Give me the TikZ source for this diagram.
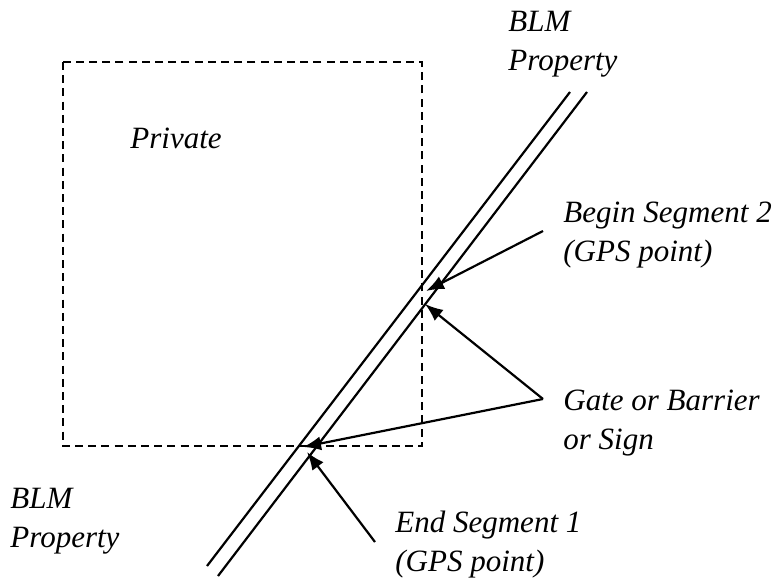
\documentclass[tikz,border=0pt]{standalone}
\usepackage{fontspec}
\setmainfont{Liberation Serif}
\usetikzlibrary{arrows.meta}
\tikzset{note/.style={anchor=base west, inner sep=0pt, align=left,
    font=\fontsize{15.5}{19.5}\selectfont\itshape}}
\tikzset{pointer/.style={line width=1.1pt, -{Latex[length=9pt,width=7pt]}}}

\begin{document}
\begin{tikzpicture}[x=0.5pt,y=-0.5pt]
  \useasboundingbox (0,0) rectangle (776,578);
  % private parcel
  \draw[line width=1.1pt, dash pattern=on 4pt off 2.6pt] (63,62) rectangle (422,446);
  % road
  \draw[line width=1.1pt] (207,566) -- (570,92);
  \draw[line width=1.1pt] (218,576) -- (587,92);
  % labels (anchored at the baseline of the last line)
  \node[note] (blmtop) at (508,70) {BLM\\Property};
  \node[note] (private) at (130,148) {Private};
  \node[note] (beginseg) at (563,261) {Begin Segment 2\\(GPS point)};
  \node[note] (gate) at (563,449) {Gate or Barrier\\or Sign};
  \node[note] (blmbot) at (10,547) {BLM\\Property};
  \node[note] (endseg) at (395,571) {End Segment 1\\(GPS point)};
  % arrow ends
  \coordinate (begintail) at (543,231);
  \coordinate (gatetail) at (543,399);
  \coordinate (endtail) at (375,542);
  \coordinate (begintip) at (426,291);
  \coordinate (gatetipa) at (425,304);
  \coordinate (gatetipb) at (303,447);
  \coordinate (endtip) at (307,452);
  \foreach \u/\v in {
    begintail/begintip,
    gatetail/gatetipa,
    gatetail/gatetipb,
    endtail/endtip%
  }{
    \draw[pointer] (\u) -- (\v);
  }
\end{tikzpicture}
\end{document}
